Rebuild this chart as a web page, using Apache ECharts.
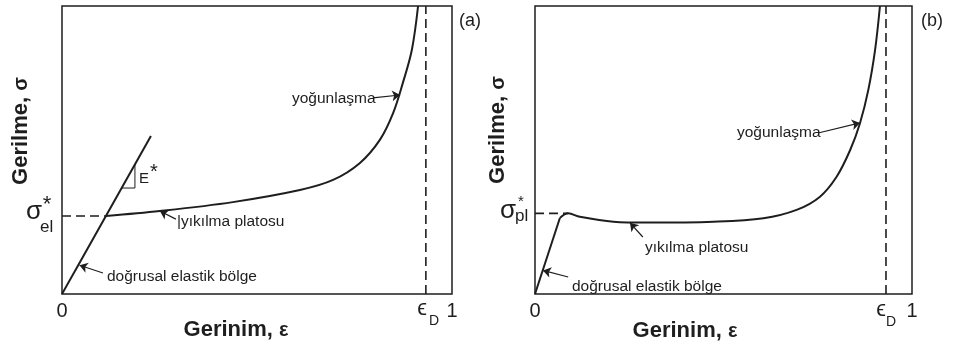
<!DOCTYPE html>
<html>
<head>
<meta charset="utf-8">
<script src="https://cdn.jsdelivr.net/npm/echarts@6/dist/echarts.min.js"></script>
<style>
html, body { margin: 0; background: #fff; }
#root { width: 954px; height: 345px; }
</style>
</head>
<body>
<div id="root"></div>
<script>
// panel (a)
const elasticA = [[0, 0], [0.228, 0.549]];
const curveA = [[0.113, 0.271], [0.251, 0.288], [0.438, 0.319], [0.610, 0.361], [0.695, 0.396],
    [0.764, 0.455], [0.815, 0.535], [0.849, 0.628], [0.874, 0.733], [0.897, 0.847], [0.913, 1.0]];
const slopeA = [[0.153, 0.368], [0.187, 0.368], [0.187, 0.451]];
const sigmaElA = 0.271;
const epsDA = 0.933;
const arrowsA = [
    [[0.105, 0.073], [0.045, 0.100]],
    [[0.292, 0.260], [0.251, 0.288]],
    [[0.797, 0.681], [0.867, 0.691]]
];
// panel (b)
const elasticB = [[0, 0], [0.066, 0.264]];
const curveB = [[0.066, 0.264], [0.088, 0.280], [0.119, 0.268], [0.208, 0.251], [0.296, 0.248],
    [0.473, 0.251], [0.606, 0.263], [0.694, 0.292], [0.756, 0.338], [0.800, 0.407], [0.836, 0.500],
    [0.862, 0.593], [0.884, 0.708], [0.902, 0.847], [0.915, 1.0]];
const sigmaPlB = 0.280;
const epsDB = 0.931;
const arrowsB = [
    [[0.088, 0.059], [0.021, 0.082]],
    [[0.286, 0.198], [0.252, 0.247]],
    [[0.751, 0.559], [0.862, 0.594]]
];
const xTicks = [0, 1];

const ink = '#1e1e1e';
const font = 'Liberation Sans';

let root = document.getElementById('root');
let myCharts = echarts.init(root);

function axisX(i) {
    return {
        gridIndex: i, type: 'value', min: 0, max: 1,
        axisLine: { show: false }, axisTick: { show: false }, splitLine: { show: false },
        axisLabel: { customValues: xTicks, margin: 7, color: ink, fontSize: 20, fontFamily: font }
    };
}
function axisY(i) {
    return {
        gridIndex: i, type: 'value', min: 0, max: 1,
        axisLine: { show: false }, axisTick: { show: false }, splitLine: { show: false },
        axisLabel: { show: false }
    };
}
function line(i, data, opts) {
    return Object.assign({
        type: 'line', xAxisIndex: i, yAxisIndex: i, data: data,
        showSymbol: false, symbol: 'none', silent: true, animation: false,
        lineStyle: { color: ink, width: 2 }
    }, opts || {});
}
function arrows(list) {
    return {
        silent: true, animation: false, symbol: ['none', 'arrow'], symbolSize: 8,
        label: { show: false },
        lineStyle: { color: ink, width: 1.2, type: 'solid' },
        data: list.map(a => [{ coord: a[0] }, { coord: a[1] }])
    };
}
const dashed = { color: ink, width: 1.6, type: [9, 5] };

function txt(x, y, text, size, extra) {
    return {
        type: 'text', x: x, y: y, silent: true,
        style: Object.assign({
            text: text, fill: ink, font: size + 'px "' + font + '"',
            textAlign: 'left', textVerticalAlign: 'middle'
        }, (extra && extra.style) || {})
    };
}
function title(x, y, main, sym, rot) {
    return {
        type: 'text', x: x, y: y, rotation: rot, silent: true,
        style: {
            text: '{b|' + main + '}{s|' + sym + '}', fill: ink,
            textAlign: 'center', textVerticalAlign: 'middle',
            rich: {
                b: { fontFamily: font, fontWeight: 'bold', fontSize: 22, fill: ink },
                s: { fontFamily: font, fontWeight: 'bold', fontSize: 20, fill: ink }
            }
        }
    };
}
const center = { style: { textAlign: 'center' } };

let option = {
    backgroundColor: '#fff',
    textStyle: { fontFamily: font },
    grid: [
        { left: 62, top: 6, width: 390, height: 288, show: true, borderColor: ink, borderWidth: 1.5 },
        { left: 535, top: 6, width: 377, height: 288, show: true, borderColor: ink, borderWidth: 1.5 }
    ],
    xAxis: [axisX(0), axisX(1)],
    yAxis: [axisY(0), axisY(1)],
    series: [
        line(0, elasticA, { markLine: arrows(arrowsA) }),
        line(0, curveA, { smooth: 0.35 }),
        line(0, slopeA, { lineStyle: { color: ink, width: 1 } }),
        line(0, [[0, sigmaElA], [curveA[0][0], sigmaElA]], { lineStyle: dashed }),
        line(0, [[epsDA, 0], [epsDA, 1]], { lineStyle: dashed }),
        line(1, elasticB, { markLine: arrows(arrowsB) }),
        line(1, curveB, { smooth: 0.35 }),
        line(1, [[0, sigmaPlB], [curveB[1][0], sigmaPlB]], { lineStyle: dashed }),
        line(1, [[epsDB, 0], [epsDB, 1]], { lineStyle: dashed })
    ],
    graphic: [
        // panel (a)
        title(21, 131, 'Gerilme, ', 'σ', Math.PI / 2),
        title(236, 330, 'Gerinim, ', 'ε', 0),
        txt(34, 212, 'σ', 26, center),
        txt(40, 227, 'el', 17),
        txt(47, 205, '*', 22, center),
        txt(139, 179, 'E', 15),
        txt(154, 172, '*', 20, center),
        txt(422, 309, 'ϵ', 22, center),
        txt(434, 321, 'D', 14, center),
        txt(459, 21, '(a)', 18),
        txt(292, 99, 'yoğunlaşma', 15.5),
        txt(177, 222, '|yıkılma platosu', 15.5),
        txt(107, 277, 'doğrusal elastik bölge', 15.5),
        // panel (b)
        title(498, 130, 'Gerilme, ', 'σ', Math.PI / 2),
        title(685, 331, 'Gerinim, ', 'ε', 0),
        txt(508, 211, 'σ', 26, center),
        txt(515, 216, 'pl', 17),
        txt(521, 202, '*', 15, center),
        txt(881, 310, 'ϵ', 22, center),
        txt(891, 322, 'D', 14, center),
        txt(921, 21, '(b)', 18),
        txt(737, 133, 'yoğunlaşma', 15.5),
        txt(645, 248, 'yıkılma platosu', 15.5),
        txt(572, 287, 'doğrusal elastik bölge', 15.5)
    ]
};
myCharts.setOption(option);
</script>
</body>
</html>
